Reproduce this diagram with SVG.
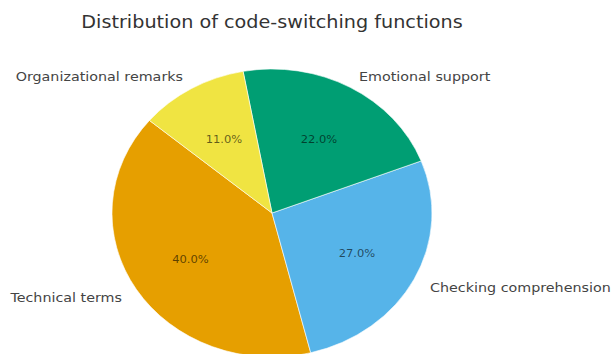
<svg xmlns="http://www.w3.org/2000/svg" width="612" height="354" viewBox="0 0 612 354">
  <style>
    text { font-family: "DejaVu Sans", "Liberation Sans", sans-serif; }
    .title { font-size: 17.3px; fill: #333; }
    .lbl { font-size: 12.9px; fill: #444; }
    .pct { font-size: 10.4px; fill: #000; fill-opacity: 0.6; text-anchor: middle; }
    .wedge { stroke: #ffffff; stroke-width: 0.6; stroke-linejoin: round; }
  </style>
  <rect width="612" height="354" fill="#ffffff"/>
  <g id="title" transform="translate(272,27.5) scale(1.11,1)">
    <text class="title" x="0" y="0" text-anchor="middle">Distribution of code-switching functions</text>
  </g>
  <g id="technical-terms">
    <path class="wedge" fill="#E69F00" d="M272,213 L149.43,120.44 A160,144 0 0 0 310.71,352.72 Z"/>
    <g transform="translate(190.5,263) scale(1.11,1)"><text class="pct" x="0" y="0">40.0%</text></g>
    <g transform="translate(122,302) scale(1.11,1)"><text class="lbl" x="0" y="0" text-anchor="end">Technical terms</text></g>
  </g>
  <g id="checking-comprehension">
    <path class="wedge" fill="#56B4E9" d="M272,213 L310.71,352.72 A160,144 0 0 0 421.17,160.93 Z"/>
    <g transform="translate(357,257.3) scale(1.11,1)"><text class="pct" x="0" y="0">27.0%</text></g>
    <g transform="translate(430,292.3) scale(1.11,1)"><text class="lbl" x="0" y="0" text-anchor="start">Checking comprehension</text></g>
  </g>
  <g id="emotional-support">
    <path class="wedge" fill="#009E73" d="M272,213 L421.17,160.93 A160,144 0 0 0 243.12,71.37 Z"/>
    <g transform="translate(319,142.7) scale(1.11,1)"><text class="pct" x="0" y="0">22.0%</text></g>
    <g transform="translate(359,80.5) scale(1.11,1)"><text class="lbl" x="0" y="0" text-anchor="start">Emotional support</text></g>
  </g>
  <g id="organizational-remarks">
    <path class="wedge" fill="#F0E442" d="M272,213 L243.12,71.37 A160,144 0 0 0 149.43,120.44 Z"/>
    <g transform="translate(224,142.7) scale(1.11,1)"><text class="pct" x="0" y="0">11.0%</text></g>
    <g transform="translate(183,80.7) scale(1.11,1)"><text class="lbl" x="0" y="0" text-anchor="end">Organizational remarks</text></g>
  </g>
  <g id="connectors"/>
</svg>
